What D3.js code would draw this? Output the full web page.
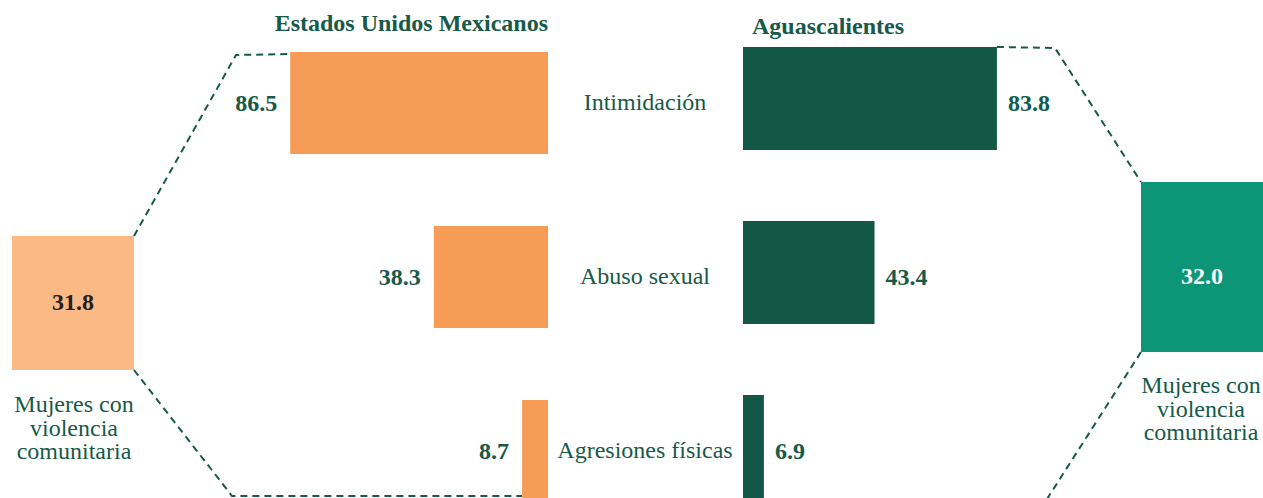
<!DOCTYPE html>
<html>
<head>
<meta charset="utf-8">
<script src="https://cdn.jsdelivr.net/npm/d3@7"></script>
<style>
  body { margin: 0; background: #fff; }
  svg { display: block; font-family: "Liberation Serif", "Times New Roman", serif; }
</style>
</head>
<body>
<div id="chart"></div>
<script>
var categories = ["Intimidación", "Abuso sexual", "Agresiones físicas"];
var mexico = [86.5, 38.3, 8.7];
var aguas = [83.8, 43.4, 6.9];
var totalMexico = 31.8;
var totalAguas = 32.0;
var titles = ["Estados Unidos Mexicanos", "Aguascalientes"];
var boxLabel = ["Mujeres con", "violencia", "comunitaria"];

var W = 1263, H = 498;
var green = "#165a49", orange = "#f79c56", darkGreen = "#135747";
var fs = 24;

var svg = d3.select("#chart").append("svg").attr("width", W).attr("height", H);

// bar centers
var y = d3.scalePoint().domain(categories).range([102, 450]);
var barH = 102;
var xMex = d3.scaleLinear().domain([0, 100]).range([548, 250]);
var xAgu = d3.scaleLinear().domain([0, 100]).range([743, 1046]);

// titles
svg.append("text").attr("x", 548).attr("y", 31).attr("text-anchor", "end")
  .attr("font-size", fs).attr("font-weight", "bold").attr("fill", green).text(titles[0]);
svg.append("text").attr("x", 752).attr("y", 34)
  .attr("font-size", fs).attr("font-weight", "bold").attr("fill", green).text(titles[1]);

// dashed connectors
var line = d3.line();
var dash = function(pts) {
  svg.append("path").attr("d", line(pts)).attr("fill", "none")
    .attr("stroke", green).attr("stroke-width", 2).attr("stroke-dasharray", "7,5");
};
var lb = {x: 12, y: 236, w: 122, h: 134};
var rb = {x: 1141, y: 182, w: 122, h: 170};
dash([[lb.x + lb.w, lb.y], [236, 55], [xMex(mexico[0]), 54]]);
dash([[lb.x + lb.w, lb.y + lb.h], [232, 496], [xMex(mexico[2]), 496]]);
dash([[xAgu(aguas[0]), 47], [1055, 48], [rb.x, rb.y]]);
dash([[rb.x, rb.y + rb.h], [1040, 510], [xAgu(aguas[2]), 510]]);

// bars, values and category names
categories.forEach(function(c, i) {
  var cy = y(c);
  svg.append("rect").attr("x", xMex(mexico[i])).attr("y", cy - 50)
    .attr("width", xMex(0) - xMex(mexico[i])).attr("height", barH).attr("fill", orange);
  svg.append("text").attr("x", xMex(mexico[i]) - 13).attr("y", cy + 9)
    .attr("text-anchor", "end").attr("font-size", fs).attr("font-weight", "bold")
    .attr("fill", green).text(d3.format(".1f")(mexico[i]));

  svg.append("rect").attr("x", xAgu(0)).attr("y", cy - 55)
    .attr("width", xAgu(aguas[i]) - xAgu(0)).attr("height", barH + 1).attr("fill", darkGreen);
  svg.append("text").attr("x", xAgu(aguas[i]) + 11).attr("y", cy + 9)
    .attr("font-size", fs).attr("font-weight", "bold")
    .attr("fill", green).text(d3.format(".1f")(aguas[i]));

  svg.append("text").attr("x", 645).attr("y", cy + 8).attr("text-anchor", "middle")
    .attr("font-size", fs).attr("fill", green).text(c);
});

// total boxes
svg.append("rect").attr("x", lb.x).attr("y", lb.y).attr("width", lb.w).attr("height", lb.h).attr("fill", "#fbb985");
svg.append("text").attr("x", lb.x + lb.w / 2).attr("y", 310).attr("text-anchor", "middle")
  .attr("font-size", fs).attr("font-weight", "bold").attr("fill", "#222").text(d3.format(".1f")(totalMexico));
svg.append("rect").attr("x", rb.x).attr("y", rb.y).attr("width", rb.w).attr("height", rb.h).attr("fill", "#0c9577");
svg.append("text").attr("x", rb.x + rb.w / 2).attr("y", 284).attr("text-anchor", "middle")
  .attr("font-size", fs).attr("font-weight", "bold").attr("fill", "#fff").text(d3.format(".1f")(totalAguas));

boxLabel.forEach(function(t, i) {
  svg.append("text").attr("x", 74).attr("y", 412 + i * 23.5).attr("text-anchor", "middle")
    .attr("font-size", fs).attr("fill", green).text(t);
  svg.append("text").attr("x", 1201).attr("y", 393 + i * 23.5).attr("text-anchor", "middle")
    .attr("font-size", fs).attr("fill", green).text(t);
});
</script>
</body>
</html>
